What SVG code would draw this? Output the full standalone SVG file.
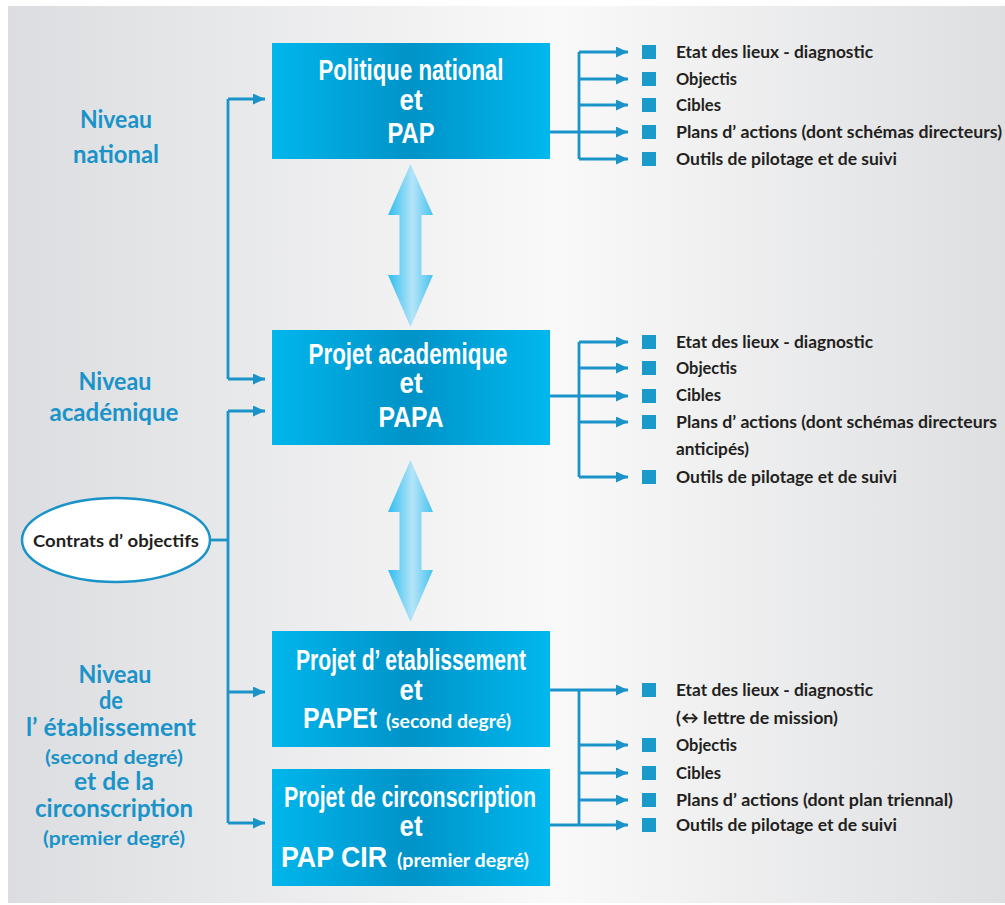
<svg xmlns="http://www.w3.org/2000/svg" width="1005" height="905" viewBox="0 0 1005 905">
<defs>
  <linearGradient id="bg" x1="0" y1="0" x2="1" y2="0">
    <stop offset="0" stop-color="#dcdde0"/>
    <stop offset="0.55" stop-color="#f9f9f9"/>
    <stop offset="1" stop-color="#dedfe1"/>
  </linearGradient>
  <linearGradient id="box" x1="0" y1="0" x2="1" y2="0">
    <stop offset="0" stop-color="#00b6ec"/>
    <stop offset="0.5" stop-color="#0093c8"/>
    <stop offset="1" stop-color="#00b8ee"/>
  </linearGradient>
  <linearGradient id="dbl" x1="0" y1="0" x2="1" y2="0">
    <stop offset="0" stop-color="#30bdee"/>
    <stop offset="0.55" stop-color="#b5e4f8"/>
    <stop offset="1" stop-color="#45c3ef"/>
  </linearGradient>
  <marker id="ah" markerUnits="userSpaceOnUse" markerWidth="13" markerHeight="11" refX="12" refY="5.5" orient="auto">
    <path d="M0,0 L12,5.5 L0,11 z" fill="#1a93c9"/>
  </marker>
  <style>
    .bx{fill:url(#box)}
    .bt{font-family:"Liberation Sans",Arial,sans-serif;font-weight:bold;fill:#ffffff;font-size:29px}
    .bs{font-family:Lato,"Open Sans",sans-serif;font-weight:bold;fill:#ffffff;font-size:19px}
    .lv{font-family:Lato,"Open Sans",sans-serif;font-weight:bold;fill:#1a93c9;font-size:24px}
    .ls{font-family:Lato,"Open Sans",sans-serif;font-weight:bold;fill:#1a93c9;font-size:19px}
    .it{font-family:Lato,"Open Sans",sans-serif;font-weight:bold;fill:#231f20;font-size:17px}
    .ln{stroke:#1a93c9;stroke-width:2.8;fill:none}
    .ar{stroke:#1a93c9;stroke-width:2.8;fill:none;marker-end:url(#ah)}
    .sq{fill:#1a9acb}
  </style>
</defs>
<rect x="8" y="6" width="997" height="897" fill="url(#bg)"/>

<g id="connectors">
  <path class="ln" d="M228,99 V379"/>
  <line class="ar" x1="228" y1="99" x2="265" y2="99"/>
  <line class="ar" x1="228" y1="379" x2="265" y2="379"/>
  <path class="ln" d="M228,411 V823"/>
  <line class="ar" x1="228" y1="411" x2="265" y2="411"/>
  <line class="ar" x1="228" y1="692" x2="265" y2="692"/>
  <line class="ar" x1="228" y1="823" x2="265" y2="823"/>
  <line class="ln" x1="210" y1="540" x2="228" y2="540"/>

  <line class="ln" x1="542" y1="132" x2="579" y2="132"/>
  <path class="ln" d="M579,52 V159"/>
  <line class="ar" x1="579" y1="52" x2="628" y2="52"/>
  <line class="ar" x1="579" y1="79" x2="628" y2="79"/>
  <line class="ar" x1="579" y1="105" x2="628" y2="105"/>
  <line class="ar" x1="579" y1="132" x2="628" y2="132"/>
  <line class="ar" x1="579" y1="159" x2="628" y2="159"/>

  <line class="ln" x1="542" y1="396" x2="579" y2="396"/>
  <path class="ln" d="M579,342 V477"/>
  <line class="ar" x1="579" y1="342" x2="628" y2="342"/>
  <line class="ar" x1="579" y1="368" x2="628" y2="368"/>
  <line class="ar" x1="579" y1="396" x2="628" y2="396"/>
  <line class="ar" x1="579" y1="422" x2="628" y2="422"/>
  <line class="ar" x1="579" y1="477" x2="628" y2="477"/>

  <line class="ln" x1="542" y1="690" x2="579" y2="690"/>
  <line class="ln" x1="542" y1="825" x2="579" y2="825"/>
  <path class="ln" d="M579,690 V825"/>
  <line class="ar" x1="579" y1="690" x2="628" y2="690"/>
  <line class="ar" x1="579" y1="745" x2="628" y2="745"/>
  <line class="ar" x1="579" y1="773" x2="628" y2="773"/>
  <line class="ar" x1="579" y1="800" x2="628" y2="800"/>
  <line class="ar" x1="579" y1="825" x2="628" y2="825"/>

  <path fill="url(#dbl)" d="M410.5,164 L433,215 L421.5,215 L421.5,275 L433,275 L410.5,327 L388,275 L399.5,275 L399.5,215 L388,215 Z"/>
  <path fill="url(#dbl)" d="M410.5,460 L433,512 L421.5,512 L421.5,570 L433,570 L410.5,622 L388,570 L399.5,570 L399.5,512 L388,512 Z"/>
</g>

<g id="level-labels">
  <text class="lv" x="116" y="128" text-anchor="middle" textLength="72" lengthAdjust="spacingAndGlyphs">Niveau</text>
  <text class="lv" x="116" y="163" text-anchor="middle" textLength="86" lengthAdjust="spacingAndGlyphs">national</text>
  <text class="lv" x="115" y="390" text-anchor="middle" textLength="73" lengthAdjust="spacingAndGlyphs">Niveau</text>
  <text class="lv" x="114" y="421" text-anchor="middle" textLength="129" lengthAdjust="spacingAndGlyphs">académique</text>
  <text class="lv" x="115" y="683" text-anchor="middle" textLength="73" lengthAdjust="spacingAndGlyphs">Niveau</text>
  <text class="lv" x="111" y="709" text-anchor="middle" textLength="24" lengthAdjust="spacingAndGlyphs">de</text>
  <text class="lv" x="111" y="736" text-anchor="middle" textLength="170" lengthAdjust="spacingAndGlyphs">l’ établissement</text>
  <text class="ls" x="114" y="764" text-anchor="middle" textLength="138" lengthAdjust="spacingAndGlyphs">(second degré)</text>
  <text class="lv" x="114" y="790" text-anchor="middle" textLength="80" lengthAdjust="spacingAndGlyphs">et de la</text>
  <text class="lv" x="114" y="817" text-anchor="middle" textLength="158" lengthAdjust="spacingAndGlyphs">circonscription</text>
  <text class="ls" x="114" y="845" text-anchor="middle" textLength="142" lengthAdjust="spacingAndGlyphs">(premier degré)</text>
</g>

<g id="contrats">
  <ellipse cx="116" cy="540" rx="94" ry="42" fill="#ffffff" stroke="#1a93c9" stroke-width="2.5"/>
  <text class="it" x="116" y="547" text-anchor="middle" textLength="166" lengthAdjust="spacingAndGlyphs">Contrats d’ objectifs</text>
</g>

<g id="box-national">
  <rect class="bx" x="272" y="43" width="278" height="116"/>
  <text class="bt" x="411" y="80" text-anchor="middle" textLength="185" lengthAdjust="spacingAndGlyphs">Politique national</text>
  <text class="bt" x="411" y="110" text-anchor="middle" textLength="23" lengthAdjust="spacingAndGlyphs">et</text>
  <text class="bt" x="411" y="143" text-anchor="middle" textLength="47" lengthAdjust="spacingAndGlyphs">PAP</text>
</g>

<g id="box-academique">
  <rect class="bx" x="272" y="330" width="278" height="115"/>
  <text class="bt" x="408" y="364" text-anchor="middle" textLength="199" lengthAdjust="spacingAndGlyphs">Projet academique</text>
  <text class="bt" x="411" y="393" text-anchor="middle" textLength="23" lengthAdjust="spacingAndGlyphs">et</text>
  <text class="bt" x="411" y="427" text-anchor="middle" textLength="65" lengthAdjust="spacingAndGlyphs">PAPA</text>
</g>

<g id="box-etablissement">
  <rect class="bx" x="272" y="631" width="278" height="116"/>
  <text class="bt" x="411" y="670" text-anchor="middle" textLength="230" lengthAdjust="spacingAndGlyphs">Projet d’ etablissement</text>
  <text class="bt" x="411" y="700" text-anchor="middle" textLength="23" lengthAdjust="spacingAndGlyphs">et</text>
  <text class="bt" x="303" y="728" textLength="74" lengthAdjust="spacingAndGlyphs">PAPEt</text>
  <text class="bs" x="386" y="728" textLength="125" lengthAdjust="spacingAndGlyphs">(second degré)</text>
</g>

<g id="box-circonscription">
  <rect class="bx" x="272" y="769" width="278" height="117"/>
  <text class="bt" x="410" y="807" text-anchor="middle" textLength="252" lengthAdjust="spacingAndGlyphs">Projet de circonscription</text>
  <text class="bt" x="411" y="836" text-anchor="middle" textLength="23" lengthAdjust="spacingAndGlyphs">et</text>
  <text class="bt" x="281" y="867" textLength="106" lengthAdjust="spacingAndGlyphs">PAP CIR</text>
  <text class="bs" x="397" y="867" textLength="132" lengthAdjust="spacingAndGlyphs">(premier degré)</text>
</g>

<g id="list-national">
  <rect class="sq" x="642" y="45" width="14" height="14"/>
  <rect class="sq" x="642" y="72" width="14" height="14"/>
  <rect class="sq" x="642" y="98" width="14" height="14"/>
  <rect class="sq" x="642" y="125" width="14" height="14"/>
  <rect class="sq" x="642" y="152" width="14" height="14"/>
  <text class="it" x="676" y="58" textLength="197" lengthAdjust="spacingAndGlyphs">Etat des lieux - diagnostic</text>
  <text class="it" x="676" y="85" textLength="61" lengthAdjust="spacingAndGlyphs">Objectis</text>
  <text class="it" x="676" y="111" textLength="45" lengthAdjust="spacingAndGlyphs">Cibles</text>
  <text class="it" x="676" y="138" textLength="326" lengthAdjust="spacingAndGlyphs">Plans d’ actions (dont schémas directeurs)</text>
  <text class="it" x="676" y="165" textLength="221" lengthAdjust="spacingAndGlyphs">Outils de pilotage et de suivi</text>
</g>

<g id="list-academique">
  <rect class="sq" x="642" y="335" width="14" height="14"/>
  <rect class="sq" x="642" y="361" width="14" height="14"/>
  <rect class="sq" x="642" y="389" width="14" height="14"/>
  <rect class="sq" x="642" y="415" width="14" height="14"/>
  <rect class="sq" x="642" y="470" width="14" height="14"/>
  <text class="it" x="676" y="348" textLength="197" lengthAdjust="spacingAndGlyphs">Etat des lieux - diagnostic</text>
  <text class="it" x="676" y="374" textLength="61" lengthAdjust="spacingAndGlyphs">Objectis</text>
  <text class="it" x="676" y="401" textLength="45" lengthAdjust="spacingAndGlyphs">Cibles</text>
  <text class="it" x="676" y="428" textLength="321" lengthAdjust="spacingAndGlyphs">Plans d’ actions (dont schémas directeurs</text>
  <text class="it" x="676" y="455" textLength="73" lengthAdjust="spacingAndGlyphs">anticipés)</text>
  <text class="it" x="676" y="483" textLength="221" lengthAdjust="spacingAndGlyphs">Outils de pilotage et de suivi</text>
</g>

<g id="list-etablissement">
  <rect class="sq" x="642" y="683" width="14" height="14"/>
  <rect class="sq" x="642" y="738" width="14" height="14"/>
  <rect class="sq" x="642" y="766" width="14" height="14"/>
  <rect class="sq" x="642" y="793" width="14" height="14"/>
  <rect class="sq" x="642" y="818" width="14" height="14"/>
  <text class="it" x="676" y="696" textLength="197" lengthAdjust="spacingAndGlyphs">Etat des lieux - diagnostic</text>
  <text class="it" x="676" y="724" textLength="162" lengthAdjust="spacingAndGlyphs">(↔ lettre de mission)</text>
  <text class="it" x="676" y="751" textLength="61" lengthAdjust="spacingAndGlyphs">Objectis</text>
  <text class="it" x="676" y="779" textLength="45" lengthAdjust="spacingAndGlyphs">Cibles</text>
  <text class="it" x="676" y="806" textLength="277" lengthAdjust="spacingAndGlyphs">Plans d’ actions (dont plan triennal)</text>
  <text class="it" x="676" y="831" textLength="221" lengthAdjust="spacingAndGlyphs">Outils de pilotage et de suivi</text>
</g>
</svg>
